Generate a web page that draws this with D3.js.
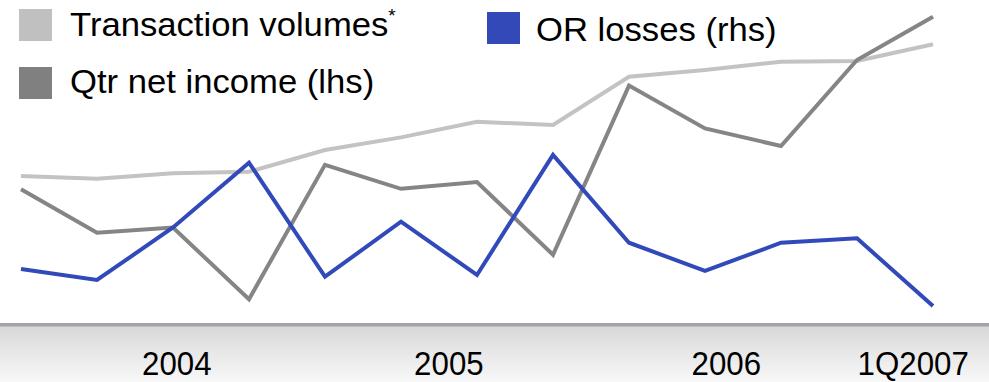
<!DOCTYPE html>
<html>
<head>
<meta charset="utf-8">
<script src="https://cdn.jsdelivr.net/npm/d3@7"></script>
<style>
  html, body { margin: 0; padding: 0; background: #fff; }
  svg { display: block; font-family: Arial, "Liberation Sans", Helvetica, sans-serif; }
</style>
</head>
<body>
<svg id="chart" width="989" height="382"></svg>
<script>
// Quarters 1Q2004 .. 1Q2007
const quarters = ["1Q04","2Q04","3Q04","4Q04","1Q05","2Q05","3Q05","4Q05","1Q06","2Q06","3Q06","4Q06","1Q07"];

// Transaction volumes (index)
const transactionVolumes = [96.3, 94.6, 97.9, 98.9, 112.5, 120.4, 130.2, 128.1, 158.3, 162.5, 167.7, 168.1, 178.6];
// Quarterly net income (lhs)
const netIncome = [3.52, 2.43, 2.56, 0.77, 4.13, 3.53, 3.70, 1.88, 6.11, 5.04, 4.60, 6.75, 7.83];
// Operational risk losses (rhs)
const orLosses = [76.3, 62.5, 128.1, 209.1, 66.6, 135.4, 68.8, 218.8, 109.1, 73.8, 109.1, 114.6, 30.0];

// Year labels along the bottom band and where they sit on the quarter axis
const yearLabels = ["2004", "2005", "2006", "1Q2007"];
const yearLabelAt = [2.05, 5.63, 9.28, 11.74];

const W = 989, H = 382;
const svg = d3.select("#chart");

const x = d3.scaleLinear().domain([0, quarters.length - 1]).range([21, 933]);
const yVol = d3.scaleLinear().domain([0, 200]).range([330, 10]);
const yLeft = d3.scaleLinear().domain([0, 8]).range([330, 10]);
const yRight = d3.scaleLinear().domain([0, 400]).range([330, 10]);

// bottom band with gradient
const defs = svg.append("defs");
const grad = defs.append("linearGradient").attr("id", "band").attr("x1", 0).attr("y1", 0).attr("x2", 0).attr("y2", 1);
grad.append("stop").attr("offset", "0%").attr("stop-color", "#d8d8d8");
grad.append("stop").attr("offset", "100%").attr("stop-color", "#f8f8f8");

svg.append("rect").attr("x", 0).attr("y", 326).attr("width", W).attr("height", H - 326).attr("fill", "url(#band)");
svg.append("rect").attr("x", 0).attr("y", 323).attr("width", W).attr("height", 3.5).attr("fill", "#a2a2aa");

svg.append("g").selectAll("text").data(yearLabels).join("text")
  .attr("transform", (d, i) => `translate(${x(yearLabelAt[i])},374.5) scale(0.92,1)`)
  .attr("text-anchor", "middle")
  .attr("font-size", 34)
  .attr("fill", "#000")
  .text(d => d);

// lines
const series = [
  { values: transactionVolumes, y: yVol, color: "#c3c3c3" },
  { values: netIncome, y: yLeft, color: "#858585" },
  { values: orLosses, y: yRight, color: "#3249b9" }
];

series.forEach(s => {
  const line = d3.line().x((d, i) => x(i)).y(d => s.y(d));
  svg.append("path")
    .datum(s.values)
    .attr("d", line)
    .attr("fill", "none")
    .attr("stroke", s.color)
    .attr("stroke-width", 4)
    .attr("stroke-linejoin", "miter")
    .attr("stroke-linecap", "butt");
});

// legend
const legend = [
  { label: "Transaction volumes", sup: "*", color: "#c0c0c0", sx: 19, sy: 9, tx: 70, ty: 36 },
  { label: "Qtr net income (lhs)", sup: null, color: "#808080", sx: 19, sy: 67, tx: 70, ty: 93 },
  { label: "OR losses (rhs)", sup: null, color: "#3449b8", sx: 487, sy: 12, tx: 536, ty: 41 }
];
const lg = svg.append("g").selectAll("g").data(legend).join("g");
lg.append("rect")
  .attr("x", d => d.sx).attr("y", d => d.sy)
  .attr("width", 33).attr("height", 32)
  .attr("fill", d => d.color);
const lt = lg.append("text")
  .attr("transform", d => `translate(${d.tx},${d.ty}) scale(1.05,1)`)
  .attr("font-size", 33)
  .attr("fill", "#000")
  .text(d => d.label);
lt.filter(d => d.sup).append("tspan")
  .attr("font-size", 18)
  .attr("dy", -14)
  .text(d => d.sup);
</script>
</body>
</html>
